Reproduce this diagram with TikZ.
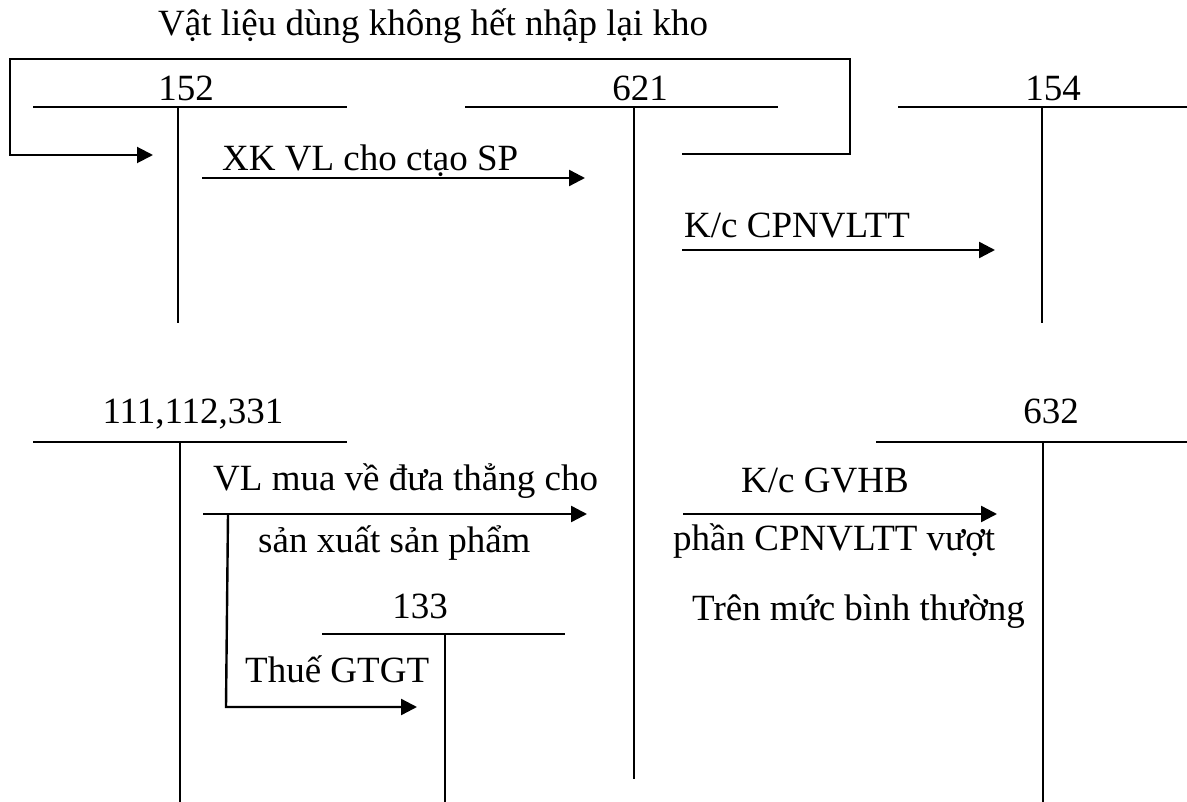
\documentclass[tikz,border=0pt]{standalone}
\usepackage{fontspec}
\setmainfont{Liberation Serif}
\usetikzlibrary{arrows.meta}
\begin{document}
\begin{tikzpicture}[x=1pt,y=-1pt,
  tline/.style={line width=1.7pt},
  flow/.style={line width=2.4pt,-{Triangle[length=16pt,width=16pt]}},
  lbl/.style={font=\fontsize{37}{40}\selectfont, inner sep=0pt},
]
\useasboundingbox (0,0) rectangle (1187,802);

% title of the return loop
\node[lbl,anchor=base west] (title) at (158,36) {Vật liệu dùng không hết nhập lại kho};

% T-account 152
\coordinate (a152l) at (33,107);  \coordinate (a152r) at (347,107);
\coordinate (a152t) at (178,107); \coordinate (a152b) at (178,323);
\draw[tline] (a152l) -- (a152r) (a152t) -- (a152b);
\node[lbl,anchor=base] (n152) at (186,101) {152};

% T-account 621
\coordinate (a621l) at (465,107); \coordinate (a621r) at (778,107);
\coordinate (a621t) at (634,107); \coordinate (a621b) at (634,779);
\draw[tline] (a621l) -- (a621r) (a621t) -- (a621b);
\node[lbl,anchor=base] (n621) at (640,101) {621};

% T-account 154
\coordinate (a154l) at (898,107); \coordinate (a154r) at (1187,107);
\coordinate (a154t) at (1042,107); \coordinate (a154b) at (1042,323);
\draw[tline] (a154l) -- (a154r) (a154t) -- (a154b);
\node[lbl,anchor=base] (n154) at (1053,101) {154};

% T-account 111,112,331
\coordinate (a111l) at (33,442);  \coordinate (a111r) at (347,442);
\coordinate (a111t) at (180,442); \coordinate (a111b) at (180,802);
\draw[tline] (a111l) -- (a111r) (a111t) -- (a111b);
\node[lbl,anchor=base] (n111) at (193,424) {111,112,331};

% T-account 632
\coordinate (a632l) at (876,442); \coordinate (a632r) at (1187,442);
\coordinate (a632t) at (1043,442); \coordinate (a632b) at (1043,802);
\draw[tline] (a632l) -- (a632r) (a632t) -- (a632b);
\node[lbl,anchor=base] (n632) at (1051,424) {632};

% T-account 133
\coordinate (a133l) at (322,634); \coordinate (a133r) at (565,634);
\coordinate (a133t) at (445,634); \coordinate (a133b) at (445,802);
\draw[tline] (a133l) -- (a133r) (a133t) -- (a133b);
\node[lbl,anchor=base] (n133) at (420,618) {133};

% return of unused material: 621 back to 152
\coordinate (rs) at (682,154);
\coordinate (rc1) at (850,154); \coordinate (rc2) at (850,59);
\coordinate (rc3) at (10,59);   \coordinate (rc4) at (10,155);
\coordinate (re) at (153,155);
\draw[flow,line width=2pt] (rs) -- (rc1) -- (rc2) -- (rc3) -- (rc4) -- (re);

% 152 -> 621
\coordinate (xks) at (202,178); \coordinate (xke) at (585,178);
\draw[flow] (xks) -- (xke);
\node[lbl,anchor=base west] (lxk) at (222,171) {XK VL cho ctạo SP};

% 621 -> 154
\coordinate (kcs) at (682,250); \coordinate (kce) at (995,250);
\draw[flow] (kcs) -- (kce);
\node[lbl,anchor=base west] (lkc) at (684,238) {K/c CPNVLTT};

% 111,112,331 -> 621
\coordinate (vls) at (203,514); \coordinate (vle) at (587,514);
\draw[flow] (vls) -- (vle);
\node[lbl,anchor=base west] (lvl1) at (213,490) {VL mua về đưa thẳng cho};
\node[lbl,anchor=base west] (lvl2) at (258,552) {sản xuất sản phẩm};

% branch to 133
\coordinate (vts) at (228,514); \coordinate (vtc) at (226,707);
\coordinate (vte) at (417,707);
\draw[flow] (vts) -- (vtc) -- (vte);
\node[lbl,anchor=base west] (lvat) at (245,682) {Thuế GTGT};

% 621 -> 632
\coordinate (gvs) at (683,514); \coordinate (gve) at (997,514);
\draw[flow] (gvs) -- (gve);
\node[lbl,anchor=base west] (lgv1) at (741,492) {K/c GVHB};
\node[lbl,anchor=base west] (lgv2) at (673,550) {phần CPNVLTT vượt};
\node[lbl,anchor=base west] (lgv3) at (692,620) {Trên mức bình thường};
\end{tikzpicture}
\end{document}
